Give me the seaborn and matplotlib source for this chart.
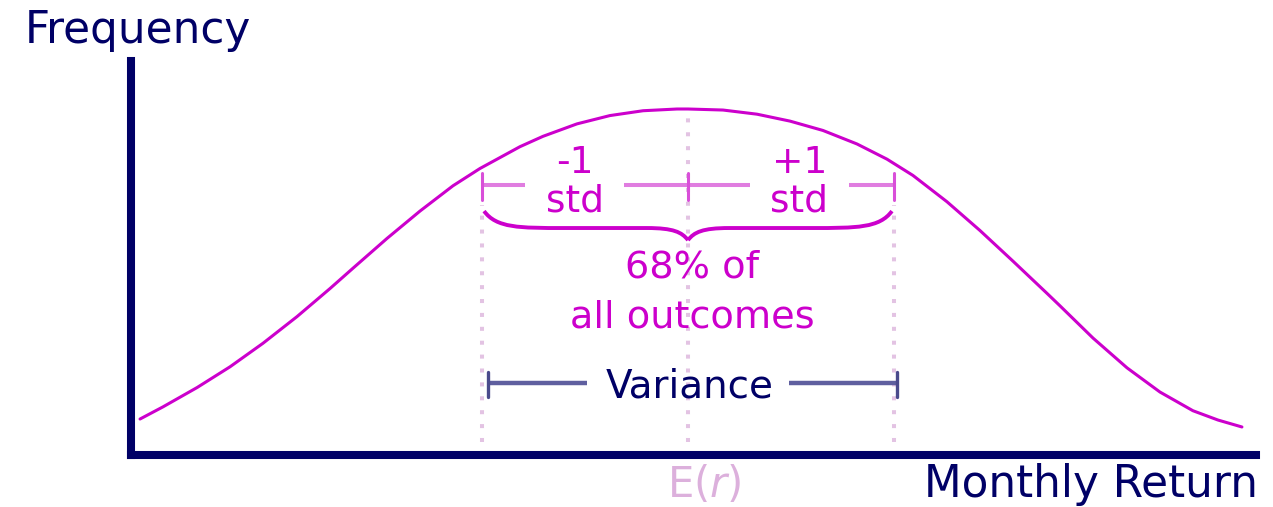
"""Normal-distribution diagram: monthly return, +/-1 std and variance."""

import matplotlib
matplotlib.use("Agg")
import matplotlib.pyplot as plt
from matplotlib.path import Path as MPath
from matplotlib.patches import PathPatch
import pandas as pd
import seaborn as sns

# Curve: return in std units from the mean, relative frequency
RETURN_STD = [
    -2.660, -2.549, -2.383, -2.223, -2.063, -1.898, -1.738, -1.626, -1.461,
    -1.301, -1.141, -1.010, -0.816, -0.704, -0.539, -0.379, -0.218, -0.053,
    0.000, 0.170, 0.335, 0.495, 0.655, 0.820, 0.966, 1.092, 1.257, 1.417,
    1.578, 1.743, 1.806, 1.966, 2.131, 2.291, 2.451, 2.573, 2.689,
]
FREQUENCY = [
    0.104, 0.139, 0.195, 0.255, 0.323, 0.400, 0.481, 0.540, 0.626,
    0.705, 0.778, 0.828, 0.891, 0.921, 0.957, 0.981, 0.995, 1.000,
    1.000, 0.997, 0.985, 0.965, 0.938, 0.899, 0.855, 0.808, 0.732, 0.649,
    0.560, 0.467, 0.431, 0.338, 0.252, 0.182, 0.128, 0.101, 0.081,
]
MEAN = 0.0
STD = 1.0

STD_LABELS = ["-1\nstd", "+1\nstd"]
SHARE_LABEL = ["68% of", "all outcomes"]
X_LABEL = "Monthly Return"
Y_LABEL = "Frequency"
MEAN_LABEL = r"E($\mathit{r}$)"
SPREAD_LABEL = "Variance"

NAVY = "#000066"
MAGENTA = "#cc00cc"
LIGHT_MAGENTA = "#e07de0"
DOT_PINK = "#e3c3e3"
VAR_LINE = "#5f5f9f"
MEAN_PINK = "#dcb0dc"

sns.set_theme(style="white")
plt.rcParams["font.family"] = ["DejaVu Sans"]
plt.rcParams["mathtext.fontset"] = "dejavusans"

fig = plt.figure(figsize=(12.73, 5.07), dpi=100)
W, H = 1273, 507
ax = fig.add_axes([131 / W, (507 - 455) / H, (1256 - 131) / W, (455 - 61) / H])
ax.set_xlim((131 - 688) / 206, (1256 - 688) / 206)
ax.set_ylim(0, (455 - 61) / 346)

df = pd.DataFrame({"ret": RETURN_STD, "freq": FREQUENCY})
sns.lineplot(data=df, x="ret", y="freq", color=MAGENTA, linewidth=2.2, ax=ax, zorder=3)

ax.set_xticks([])
ax.set_yticks([])
ax.set_xlabel("")
ax.set_ylabel("")
for side in ["top", "right"]:
    ax.spines[side].set_visible(False)
for side in ["left", "bottom"]:
    ax.spines[side].set_color(NAVY)
    ax.spines[side].set_linewidth(5.8)
    ax.spines[side].set_capstyle("projecting")

lo, hi = MEAN - STD, MEAN + STD

# dotted guides at mean and +/-1 std
for xv, ytop in [(lo, 0.723), (MEAN, 0.983), (hi, 0.723)]:
    ax.plot([xv, xv], [0.038, ytop], color=DOT_PINK, linewidth=2.9,
            dashes=(1.0, 2.45), solid_capstyle="butt", zorder=1)

# +/-1 std bracket
y_std = 0.780
txt_x = [MEAN - 0.55 * STD, MEAN + 0.54 * STD]
gap = 0.24
segs = [(lo, txt_x[0] - gap), (txt_x[0] + gap, txt_x[1] - gap), (txt_x[1] + gap, hi)]
for a, b in segs:
    ax.plot([a, b], [y_std, y_std], color=LIGHT_MAGENTA, linewidth=2.9,
            solid_capstyle="butt", zorder=2)
for xv in [lo, MEAN, hi]:
    ax.plot([xv, xv], [0.737, 0.815], color="#d94fd9", linewidth=2.2, zorder=2)
for xv, lab in zip(txt_x, STD_LABELS):
    top, bottom = lab.split("\n")
    ax.text(xv, (455 - 173) / 346, top, ha="center", va="baseline",
            fontsize=27, color=MAGENTA)
    ax.text(xv, (455 - 212) / 346, bottom, ha="center", va="baseline",
            fontsize=27, color=MAGENTA)

# curly brace under the bracket
y_end, y_mid, y_tip = 0.705, 0.656, 0.621
verts, codes = [], []
for s in (-1, 1):
    pts = [
        (MEAN + s * 0.99 * STD, y_end),
        (MEAN + s * 0.93 * STD, y_mid), (MEAN + s * 0.82 * STD, y_mid), (MEAN + s * 0.6 * STD, y_mid),
        (MEAN + s * 0.2 * STD, y_mid),
        (MEAN + s * 0.07 * STD, y_mid), (MEAN + s * 0.03 * STD, y_mid - 0.012), (MEAN, y_tip),
    ]
    verts += pts
    codes += [MPath.MOVETO, MPath.CURVE4, MPath.CURVE4, MPath.CURVE4,
              MPath.LINETO, MPath.CURVE4, MPath.CURVE4, MPath.CURVE4]
ax.add_patch(PathPatch(MPath(verts, codes), facecolor="none", edgecolor=MAGENTA,
                       linewidth=2.8, zorder=2))

ax.text(MEAN + 0.02, (455 - 278) / 346, SHARE_LABEL[0], ha="center", va="baseline",
        fontsize=27.5, color=MAGENTA)
ax.text(MEAN + 0.02, (455 - 328) / 346, SHARE_LABEL[1], ha="center", va="baseline",
        fontsize=27.5, color=MAGENTA)

# variance bar
y_var = 0.208
vlo, vhi = lo + 0.03, hi + 0.015
vgap = 0.49
for a, b in [(vlo, MEAN - vgap), (MEAN + vgap, vhi)]:
    ax.plot([a, b], [y_var, y_var], color=VAR_LINE, linewidth=3.2,
            solid_capstyle="butt", zorder=2)
for xv in [vlo, vhi]:
    ax.plot([xv, xv], [0.168, 0.240], color="#4a4a8c", linewidth=2.4, zorder=2)
ax.text(MEAN + 0.01, (455 - 397) / 346, SPREAD_LABEL, ha="center", va="baseline",
        fontsize=28, color=NAVY)

# axis labels placed as in the diagram
ax.text((25 - 688) / 206, (455 - 43) / 346, Y_LABEL, ha="left", va="baseline",
        fontsize=31.5, color=NAVY, clip_on=False)
ax.text((1258 - 688) / 206, (455 - 497) / 346, X_LABEL, ha="right", va="baseline",
        fontsize=31.5, color=NAVY, clip_on=False)
ax.text(MEAN + 0.08, (455 - 497) / 346, MEAN_LABEL, ha="center", va="baseline",
        fontsize=30, color=MEAN_PINK, clip_on=False)

fig.savefig("out.png", dpi=100)
